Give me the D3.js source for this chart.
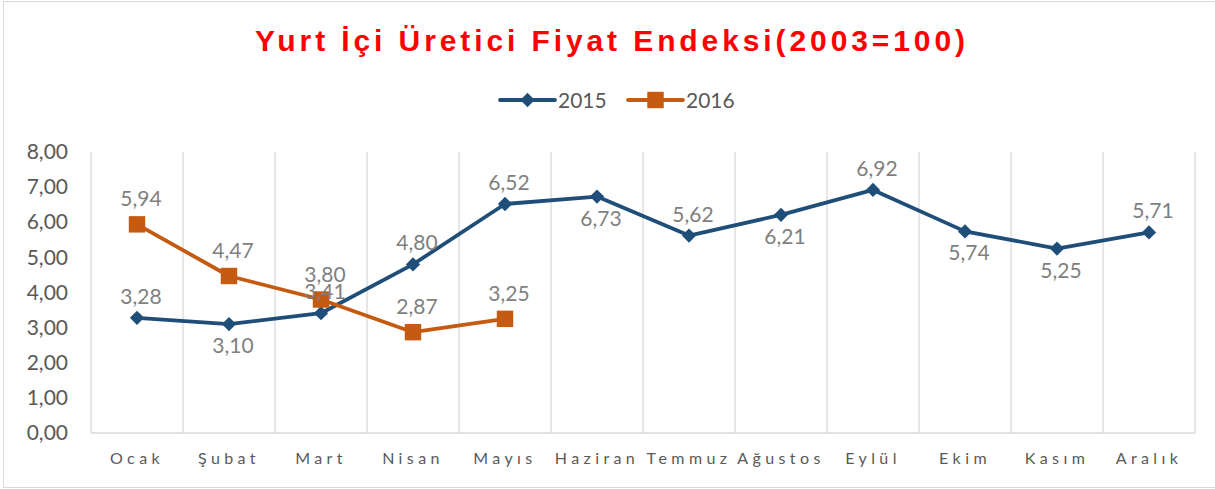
<!DOCTYPE html>
<html>
<head>
<meta charset="utf-8">
<script src="https://cdn.jsdelivr.net/npm/d3@7"></script>
<style>
  body { margin: 0; background: #fff; }
  text { font-family: Lato, "Noto Sans", sans-serif; }
</style>
</head>
<body>
<div id="chart"></div>
<script>
// data
var months = ["Ocak","Şubat","Mart","Nisan","Mayıs","Haziran","Temmuz","Ağustos","Eylül","Ekim","Kasım","Aralık"]
var values2015 = [3.28, 3.10, 3.41, 4.80, 6.52, 6.73, 5.62, 6.21, 6.92, 5.74, 5.25, 5.71]
var values2016 = [5.94, 4.47, 3.80, 2.87, 3.25]
var yTicks = [0,1,2,3,4,5,6,7,8]
// where each data label goes
var labelPos2015 = ["up","down","up","up","up","down","up","down","up","down","down","up"]
var labelPos2016 = ["up","up","up","up","up"]

var W = 1215, H = 489
var svg = d3.select("#chart").append("svg")
    .attr("width", W)
    .attr("height", H)

// border
svg.append("rect")
    .attr("x", 3.5).attr("y", 1.5)
    .attr("width", W).attr("height", H - 3)
    .attr("fill", "#fff")
    .attr("stroke", "#d9d9d9")

var pLeft = 91, pRight = 1195, pTop = 152, pBottom = 433

var x = d3.scaleBand().domain(months).range([pLeft, pRight])
var y = d3.scaleLinear().domain([0, 8]).range([pBottom, pTop])
var fmt = function(v){ return d3.format(".2f")(v).replace(".", ",") }

// vertical gridlines at category boundaries
var bounds = months.map(function(m){ return x(m) }).concat([pRight])
svg.append("g").selectAll("line")
    .data(bounds)
    .enter().append("line")
    .attr("x1", d => d).attr("x2", d => d)
    .attr("y1", pTop).attr("y2", pBottom)
    .attr("stroke", "#d9d9d9")
    .attr("stroke-width", 1.3)

// x axis line
svg.append("line")
    .attr("x1", pLeft).attr("x2", pRight)
    .attr("y1", pBottom).attr("y2", pBottom)
    .attr("stroke", "#d9d9d9")
    .attr("stroke-width", 1.3)

// y axis labels
var yAxis = d3.axisLeft(y).tickValues(yTicks).tickSize(0).tickPadding(23).tickFormat(fmt)
var ga = svg.append("g").attr("transform", "translate(" + pLeft + ",0)").call(yAxis)
ga.select(".domain").remove()
ga.selectAll("text")
    .attr("font-family", "Lato, 'Noto Sans', sans-serif")
    .attr("font-size", 21)
    .attr("fill", "#595959")

// x axis labels
var xAxis = d3.axisBottom(x).tickSize(0).tickPadding(20)
var gx = svg.append("g").attr("transform", "translate(0," + pBottom + ")").call(xAxis)
gx.select(".domain").remove()
gx.selectAll("text")
    .attr("font-family", "Lato, 'Noto Sans', sans-serif")
    .attr("font-size", 16)
    .attr("letter-spacing", "4.4px")
    .attr("fill", "#595959")

var cx = function(i){ return x(months[i]) + x.bandwidth() / 2 }

var line = d3.line()
    .x((d, i) => cx(i))
    .y(d => y(d))

var c15 = "#1f4e79", c16 = "#c55a11"

svg.append("path")
    .datum(values2015)
    .attr("d", line)
    .attr("fill", "none")
    .attr("stroke", c15)
    .attr("stroke-width", 3.8)
    .attr("stroke-linejoin", "round")

svg.append("path")
    .datum(values2016)
    .attr("d", line)
    .attr("fill", "none")
    .attr("stroke", c16)
    .attr("stroke-width", 3.8)
    .attr("stroke-linejoin", "round")

var diamond = d3.symbol().type(d3.symbolDiamond2).size(130)
var square = d3.symbol().type(d3.symbolSquare).size(270)

svg.append("g").selectAll("path")
    .data(values2015)
    .enter().append("path")
    .attr("d", diamond)
    .attr("transform", (d, i) => "translate(" + cx(i) + "," + y(d) + ")")
    .attr("fill", c15)

svg.append("g").selectAll("path")
    .data(values2016)
    .enter().append("path")
    .attr("d", square)
    .attr("transform", (d, i) => "translate(" + cx(i) + "," + y(d) + ")")
    .attr("fill", c16)

function labels(vals, pos, upOff) {
  svg.append("g").selectAll("text")
    .data(vals)
    .enter().append("text")
    .attr("x", (d, i) => cx(i) + 4)
    .attr("y", (d, i) => pos[i] == "up" ? y(d) - upOff : y(d) + 29)
    .attr("text-anchor", "middle")
    .attr("font-size", 21)
    .attr("fill", "#7f7f7f")
    .text(fmt)
}
labels(values2015, labelPos2015, 14)
labels(values2016, labelPos2016, 18)

// title
svg.append("text")
    .attr("x", 612).attr("y", 51)
    .attr("text-anchor", "middle")
    .attr("font-weight", "bold")
    .attr("font-size", 30)
    .attr("letter-spacing", "3.9px")
    .attr("fill", "#ff0000")
    .style("font-family", "'Liberation Sans', Arial, sans-serif")
    .text("Yurt İçi Üretici Fiyat Endeksi(2003=100)")

// legend
var legend = [{name: "2015", color: c15, sym: diamond, x: 500},
              {name: "2016", color: c16, sym: square, x: 628}]
var lg = svg.append("g").selectAll("g")
    .data(legend)
    .enter().append("g")
    .attr("transform", d => "translate(" + d.x + ",100)")
lg.append("line")
    .attr("x1", 0).attr("x2", 55)
    .attr("stroke", d => d.color)
    .attr("stroke-width", 3.8)
    .attr("stroke-linecap", "round")
lg.append("path")
    .attr("d", d => d.sym())
    .attr("transform", "translate(27.5,0)")
    .attr("fill", d => d.color)
lg.append("text")
    .attr("x", 58).attr("y", 7.5)
    .attr("font-size", 21)
    .attr("fill", "#595959")
    .text(d => d.name)
</script>
</body>
</html>
